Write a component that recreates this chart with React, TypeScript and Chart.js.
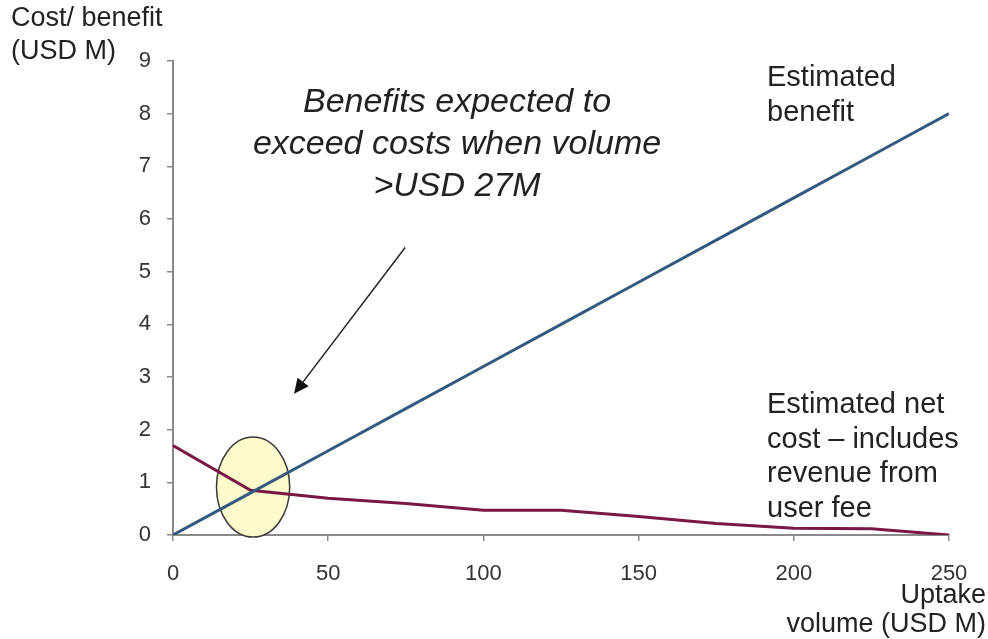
import React, { useEffect, useRef } from "react";
import { Chart, registerables } from "chart.js";

Chart.register(...registerables);

// Uptake volume (USD M) on the x axis
const volumes = [0, 25, 50, 75, 100, 125, 150, 175, 200, 225, 250];
// Estimated benefit (USD M)
const benefit = [0, 0.8, 1.6, 2.4, 3.2, 4.0, 4.8, 5.6, 6.4, 7.2, 8.0];
// Estimated net cost after user-fee revenue (USD M)
const netCost = [1.7, 0.85, 0.7, 0.6, 0.47, 0.47, 0.35, 0.22, 0.13, 0.12, 0];

const xTicks = [0, 50, 100, 150, 200, 250];
const yTicks = [0, 1, 2, 3, 4, 5, 6, 7, 8, 9];

// Break-even highlight (centre and radii in data units)
const breakEven = { x: 25.8, y: 0.91, rx: 11.8, ry: 0.95 };
// Callout arrow from the note to the crossing
const arrowFrom = { x: 74.8, y: 5.46 };
const arrowTo = { x: 39, y: 2.68 };

const noteLines = ["Benefits expected to", "exceed costs when volume", ">USD 27M"];
const benefitLabel = ["Estimated", "benefit"];
const costLabel = ["Estimated net", "cost \u2013 includes", "revenue from", "user fee"];
const yTitle = ["Cost/ benefit", "(USD M)"];
const xTitle = ["Uptake", "volume (USD M)"];

const FONT = "'Liberation Sans', Arial, sans-serif";

const ellipsePlugin = {
  id: "breakEvenEllipse",
  beforeDatasetsDraw(chart: any) {
    const { ctx, scales } = chart;
    const cx = scales.x.getPixelForValue(breakEven.x);
    const cy = scales.y.getPixelForValue(breakEven.y);
    const rx = Math.abs(scales.x.getPixelForValue(breakEven.x + breakEven.rx) - cx);
    const ry = Math.abs(scales.y.getPixelForValue(breakEven.y + breakEven.ry) - cy);
    ctx.save();
    ctx.beginPath();
    ctx.ellipse(cx, cy, rx, ry, 0, 0, Math.PI * 2);
    ctx.fillStyle = "#FDFBCB";
    ctx.fill();
    ctx.lineWidth = 1.5;
    ctx.strokeStyle = "#3a3a3a";
    ctx.stroke();
    ctx.restore();
  },
};

const textPlugin = {
  id: "notes",
  afterDraw(chart: any) {
    const { ctx, scales } = chart;
    ctx.save();

    // Arrow
    const x1 = scales.x.getPixelForValue(arrowFrom.x);
    const y1 = scales.y.getPixelForValue(arrowFrom.y);
    const x2 = scales.x.getPixelForValue(arrowTo.x);
    const y2 = scales.y.getPixelForValue(arrowTo.y);
    const ang = Math.atan2(y2 - y1, x2 - x1);
    const head = 15;
    const bx = x2 - head * Math.cos(ang);
    const by = y2 - head * Math.sin(ang);
    ctx.strokeStyle = "#222";
    ctx.lineWidth = 1.5;
    ctx.beginPath();
    ctx.moveTo(x1, y1);
    ctx.lineTo(bx, by);
    ctx.stroke();
    ctx.fillStyle = "#111";
    ctx.beginPath();
    ctx.moveTo(x2, y2);
    ctx.lineTo(bx + 7 * Math.sin(ang), by - 7 * Math.cos(ang));
    ctx.lineTo(bx - 7 * Math.sin(ang), by + 7 * Math.cos(ang));
    ctx.closePath();
    ctx.fill();

    ctx.fillStyle = "#222";
    ctx.textBaseline = "middle";

    // Italic note
    ctx.font = `italic 34px ${FONT}`;
    ctx.textAlign = "center";
    noteLines.forEach((t, i) => ctx.fillText(t, 457, 103 + i * 42));

    // Series labels
    ctx.font = `29px ${FONT}`;
    ctx.textAlign = "left";
    benefitLabel.forEach((t, i) => ctx.fillText(t, 767, 78 + i * 35));
    costLabel.forEach((t, i) => ctx.fillText(t, 767, 405 + i * 34.5));

    // Axis titles
    ctx.font = `27px ${FONT}`;
    ctx.textAlign = "left";
    yTitle.forEach((t, i) => ctx.fillText(t, 11, 19 + i * 33));
    ctx.textAlign = "right";
    xTitle.forEach((t, i) => ctx.fillText(t, 986, 596 + i * 29));

    ctx.restore();
  },
};

export default function App() {
  const ref = useRef<HTMLCanvasElement | null>(null);

  useEffect(() => {
    if (!ref.current) return;
    const chart = new Chart(ref.current, {
      type: "line",
      data: {
        datasets: [
          {
            label: "Estimated benefit",
            data: volumes.map((v, i) => ({ x: v, y: benefit[i] })),
            borderColor: "#34597F",
            borderWidth: 3,
            pointRadius: 0,
            tension: 0,
          },
          {
            label: "Estimated net cost",
            data: volumes.map((v, i) => ({ x: v, y: netCost[i] })),
            borderColor: "#7A1745",
            borderWidth: 3,
            pointRadius: 0,
            tension: 0,
          },
        ],
      },
      options: {
        animation: false,
        responsive: false,
        maintainAspectRatio: false,
        layout: { padding: { left: 0, top: 61, right: 39, bottom: 0 } },
        plugins: {
          legend: { display: false },
          tooltip: { enabled: false },
        },
        scales: {
          x: {
            type: "linear",
            min: 0,
            max: 250,
            afterBuildTicks: (s: any) => {
              s.ticks = xTicks.map((v) => ({ value: v }));
            },
            afterFit: (s: any) => {
              s.height = 104;
            },
            ticks: {
              color: "#333",
              font: { family: FONT, size: 22 },
              padding: 20,
              maxRotation: 0,
            },
            grid: {
              drawOnChartArea: false,
              drawTicks: true,
              tickLength: 6,
              color: "#8a8a8a",
              lineWidth: 1.5,
            },
            border: { display: true, color: "#8a8a8a", width: 2 },
          },
          y: {
            type: "linear",
            min: 0,
            max: 9,
            afterBuildTicks: (s: any) => {
              s.ticks = yTicks.map((v) => ({ value: v }));
            },
            afterFit: (s: any) => {
              s.width = 173;
            },
            ticks: {
              color: "#333",
              font: { family: FONT, size: 22 },
              padding: 16,
            },
            grid: {
              drawOnChartArea: false,
              drawTicks: true,
              tickLength: 6,
              color: "#8a8a8a",
              lineWidth: 1.5,
            },
            border: { display: true, color: "#8a8a8a", width: 2 },
          },
        },
      },
      plugins: [ellipsePlugin, textPlugin],
    });
    return () => chart.destroy();
  }, []);

  return (
    <div style={{ position: "fixed", left: 0, top: 0, width: 988, height: 639, background: "#fff" }}>
      <canvas ref={ref} width={988} height={639} style={{ display: "block" }} />
    </div>
  );
}
